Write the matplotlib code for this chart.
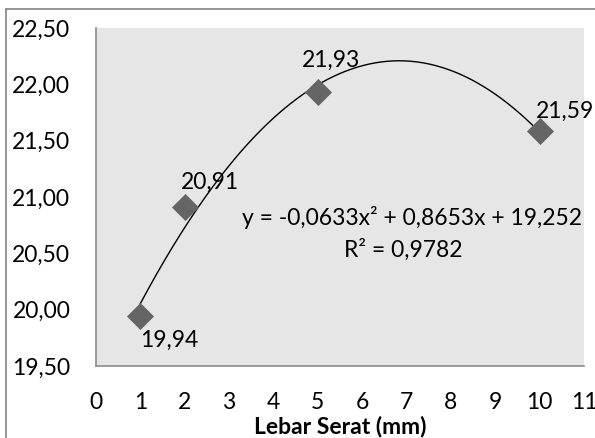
import matplotlib
matplotlib.use("Agg")
import matplotlib.pyplot as plt
import numpy as np
from matplotlib.lines import Line2D

plt.rcParams['font.family'] = ['Lato', 'DejaVu Sans']

x_vals = [1, 2, 5, 10]
y_vals = [19.94, 20.91, 21.93, 21.59]
labels = ["19,94", "20,91", "21,93", "21,59"]
label_offsets = [(21, -17), (18, 18), (9.5, 23), (18, 14)]
coef = [-0.0633, 0.8653, 19.252]
xticks = list(range(0, 12))
yticks = [19.5, 20.0, 20.5, 21.0, 21.5, 22.0, 22.5]
ytick_labels = ["19,50", "20,00", "20,50", "21,00", "21,50", "22,00", "22,50"]

FS = 16.5

fig = plt.figure(figsize=(5.95, 4.38), dpi=100)
ax = fig.add_axes([96/595, (438-366)/438, 488/595, 338/438])
ax.set_facecolor('#e6e6e6')

xs = np.linspace(1, 10, 200)
ax.plot(xs, np.polyval(coef, xs), color='black', lw=1.0, zorder=2)
ax.scatter(x_vals, y_vals, marker='D', s=190, color='#656565', zorder=3, linewidths=0)

for xv, yv, lab, off in zip(x_vals, y_vals, labels, label_offsets):
    ax.annotate(lab, (xv, yv), xytext=off, textcoords='offset points',
                ha='center', va='center', fontsize=FS, color='black', zorder=4,
                annotation_clip=False)

ax.text(7.12, 20.82, "y = -0,0633x² + 0,8653x + 19,252", ha='center', va='center', fontsize=FS)
ax.text(6.92, 20.53, "R² = 0,9782", ha='center', va='center', fontsize=FS)

ax.set_xlim(0, 11)
ax.set_ylim(19.5, 22.5)
ax.set_xticks(xticks)
ax.set_xticklabels([str(t) for t in xticks])
ax.set_yticks(yticks)
ax.set_yticklabels(ytick_labels)
ax.tick_params(axis='both', length=0, labelsize=FS)
ax.tick_params(axis='y', pad=18.5)
ax.tick_params(axis='x', pad=18.5)
for s in ['top', 'right']:
    ax.spines[s].set_visible(False)
for s in ['left', 'bottom']:
    ax.spines[s].set_color('#8c8c8c')
    ax.spines[s].set_linewidth(1.2)

ax.set_xlabel("Lebar Serat (mm)", fontsize=FS, fontweight='bold', labelpad=2)

# outer chart border (cropped at right/bottom)
fig.add_artist(Line2D([6/595, 6/595], [0, 1 - 9/438], transform=fig.transFigure, color='#8c8c8c', lw=1.3))
fig.add_artist(Line2D([6/595, 1], [1 - 9/438, 1 - 9/438], transform=fig.transFigure, color='#8c8c8c', lw=1.3))

fig.savefig("out.png", dpi=100)
